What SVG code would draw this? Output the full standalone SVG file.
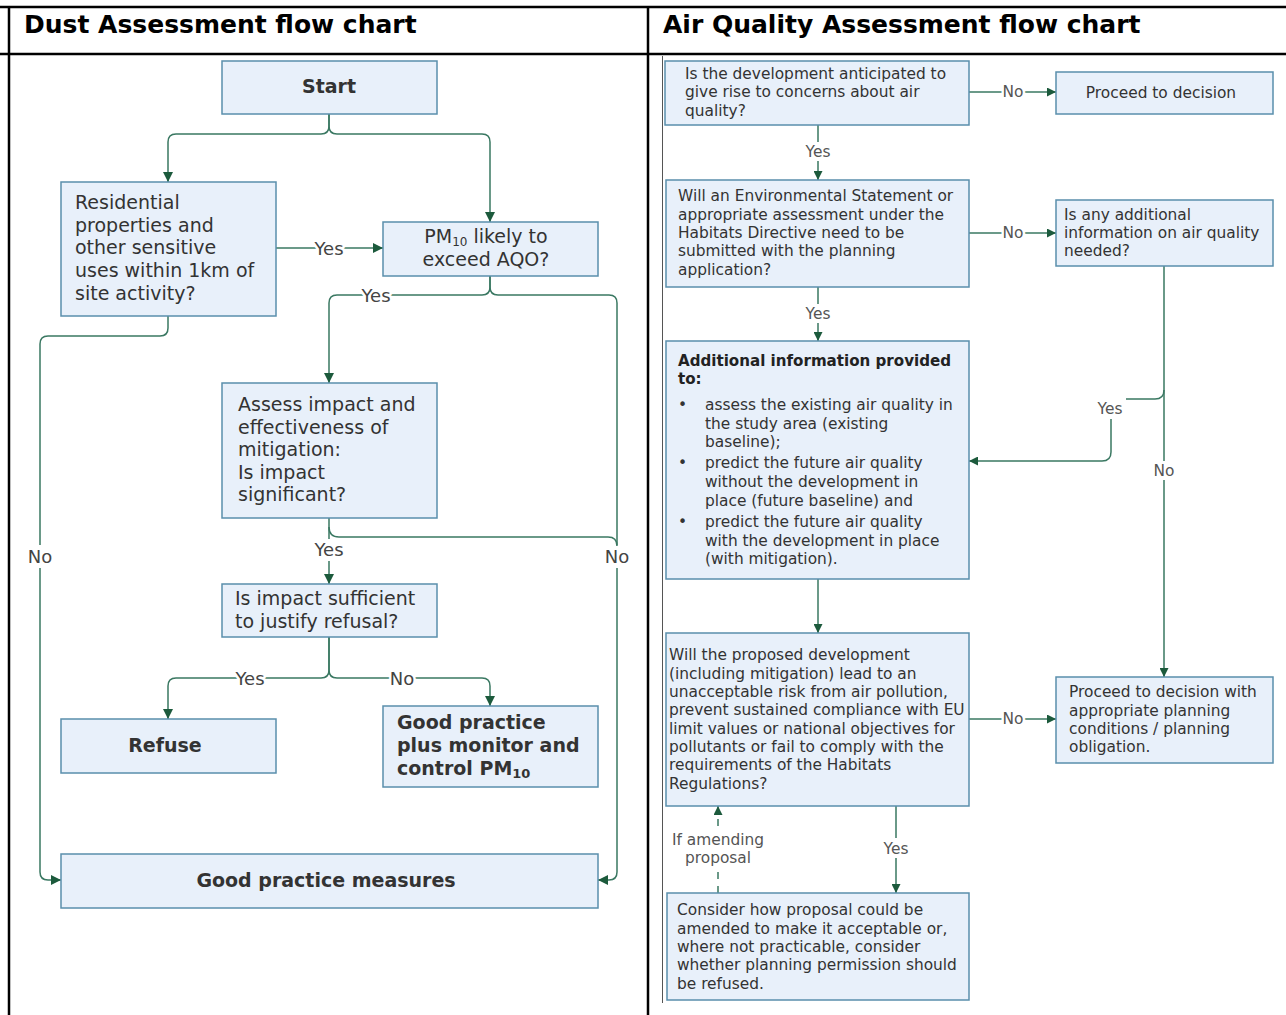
<svg xmlns="http://www.w3.org/2000/svg" width="1286" height="1015" viewBox="0 0 1286 1015">
<defs>
<marker id="ah" viewBox="0 0 10 10" refX="10" refY="5" markerWidth="10" markerHeight="10" markerUnits="userSpaceOnUse" orient="auto">
<path d="M0,0 L10,5 L0,10 Z" fill="#1c5a3c"/>
</marker>
<marker id="ahs" viewBox="0 0 10 10" refX="10" refY="5" markerWidth="9" markerHeight="9" markerUnits="userSpaceOnUse" orient="auto">
<path d="M0,0 L10,5 L0,10 Z" fill="#1c5a3c"/>
</marker>
</defs>
<style>
.frame{stroke:#000;stroke-width:2.5;fill:none}
.hdr{font-family:"DejaVu Sans",Verdana,sans-serif;font-weight:bold;font-size:25px;fill:#000}
.box{fill:#e8f0fa;stroke:#5a8fac;stroke-width:1.5}
.tl{font-family:"DejaVu Sans",Verdana,sans-serif;font-size:19px;fill:#333}
.tlb{font-family:"DejaVu Sans",Verdana,sans-serif;font-size:19px;font-weight:bold;fill:#333}
.tr{font-family:"DejaVu Sans",Verdana,sans-serif;font-size:15.4px;fill:#333}
.trb{font-family:"DejaVu Sans",Verdana,sans-serif;font-size:15.1px;font-weight:bold;fill:#222}
.c{stroke:#3a7862;stroke-width:1.5;fill:none}
.cl{marker-end:url(#ah)}
.cs{marker-end:url(#ahs)}
.lblL{font-family:"DejaVu Sans",Verdana,sans-serif;font-size:18px;fill:#444;text-anchor:middle;paint-order:stroke;stroke:#fff;stroke-width:5px;stroke-linejoin:round}
.lblR{font-family:"DejaVu Sans",Verdana,sans-serif;font-size:15.4px;fill:#555;text-anchor:middle;paint-order:stroke;stroke:#fff;stroke-width:5px;stroke-linejoin:round}
.mid{text-anchor:middle}
</style>
<rect width="1286" height="1015" fill="#fff"/>
<g id="frame">
<line class="frame" x1="0" y1="7" x2="1286" y2="7"/>
<line class="frame" x1="0" y1="54" x2="1286" y2="54"/>
<line class="frame" x1="9" y1="7" x2="9" y2="1015"/>
<line class="frame" x1="648" y1="7" x2="648" y2="1015"/>
<line x1="662.5" y1="56" x2="662.5" y2="1003" stroke="#555" stroke-width="1"/>
<text class="hdr" x="24" y="33">Dust Assessment flow chart</text>
<text class="hdr" x="663" y="33">Air Quality Assessment flow chart</text>
</g>

<g id="connectors">
<!-- left chart -->
<path class="c cl" d="M329,114 V126 Q329,134 321,134 H176 Q168,134 168,142 V182"/>
<path class="c cl" d="M329,114 V126 Q329,134 337,134 H482 Q490,134 490,142 V222"/>
<path class="c cl" d="M276,248 H383"/>
<path class="c cl" d="M490,276 V287 Q490,295 482,295 H337 Q329,295 329,303 V383"/>
<path class="c cl" d="M490,276 V287 Q490,295 498,295 H609 Q617,295 617,303 V545 M617,568 V872 Q617,880 609,880 H598"/>
<path class="c cl" d="M168,316 V328 Q168,336 160,336 H48 Q40,336 40,344 V545 M40,568 V872 Q40,880 48,880 H61"/>
<path class="c cl" d="M329,518 V539 M329,561 V584"/>
<path class="c" d="M329,527 Q329,537 339,537 H608 Q617,537 617,546"/>
<path class="c cl" d="M329,637 V670 Q329,678 321,678 H176 Q168,678 168,686 V719"/>
<path class="c cl" d="M329,637 V670 Q329,678 337,678 H482 Q490,678 490,686 V706"/>
<text class="lblL" x="329" y="255">Yes</text>
<text class="lblL" x="376" y="302">Yes</text>
<text class="lblL" x="40" y="563">No</text>
<text class="lblL" x="617" y="563">No</text>
<text class="lblL" x="329" y="556">Yes</text>
<text class="lblL" x="250" y="685">Yes</text>
<text class="lblL" x="402" y="685">No</text>
<!-- right chart -->
<path class="c cs" d="M969,92 H1056"/>
<path class="c cs" d="M818,125 V142 M818,161 V180"/>
<path class="c cs" d="M969,233 H1056"/>
<path class="c cs" d="M818,287 V304 M818,323 V341"/>
<path class="c cs" d="M1164,266 V461 M1164,480 V677"/>
<path class="c cs" d="M1164,390 Q1164,399 1155,399 H1126 M1111,419 V452 Q1111,461 1102,461 H969"/>
<path class="c cs" d="M818,579 V633"/>
<path class="c cs" d="M969,719 H1056"/>
<path class="c cs" d="M896,806 V838 M896,858 V893"/>
<path class="c cs" d="M718,893 V870 M718,826 V806" stroke-dasharray="7,7"/>
<text class="lblR" x="1013" y="97">No</text>
<text class="lblR" x="818" y="157">Yes</text>
<text class="lblR" x="1013" y="238">No</text>
<text class="lblR" x="818" y="319">Yes</text>
<text class="lblR" x="1110" y="414">Yes</text>
<text class="lblR" x="1164" y="476">No</text>
<text class="lblR" x="1013" y="724">No</text>
<text class="lblR" x="896" y="854">Yes</text>
<text class="lblR" x="718" y="845">If amending</text>
<text class="lblR" x="718" y="863">proposal</text>
</g>

<!-- left chart nodes -->
<g id="start">
<rect class="box" x="222" y="61" width="215" height="53"/>
<text class="tlb mid" x="329" y="93">Start</text>
</g>
<g id="residential">
<rect class="box" x="61" y="182" width="215" height="134"/>
<text class="tl" x="75" y="209">Residential</text>
<text class="tl" x="75" y="232">properties and</text>
<text class="tl" x="75" y="254">other sensitive</text>
<text class="tl" x="75" y="277">uses within 1km of</text>
<text class="tl" x="75" y="300">site activity?</text>
</g>
<g id="pm10">
<rect class="box" x="383" y="222" width="215" height="54"/>
<text class="tl mid" x="486" y="243">PM<tspan font-size="12" dy="3">10</tspan><tspan dy="-3"> likely to</tspan></text>
<text class="tl mid" x="486" y="266">exceed AQO?</text>
</g>
<g id="assess">
<rect class="box" x="222" y="383" width="215" height="135"/>
<text class="tl" x="238" y="411">Assess impact and</text>
<text class="tl" x="238" y="434">effectiveness of</text>
<text class="tl" x="238" y="456">mitigation:</text>
<text class="tl" x="238" y="479">Is impact</text>
<text class="tl" x="238" y="501">significant?</text>
</g>
<g id="sufficient">
<rect class="box" x="222" y="584" width="215" height="53"/>
<text class="tl" x="235" y="605">Is impact sufficient</text>
<text class="tl" x="235" y="628">to justify refusal?</text>
</g>
<g id="refuse">
<rect class="box" x="61" y="719" width="215" height="54"/>
<text class="tlb mid" x="165" y="752">Refuse</text>
</g>
<g id="goodplus">
<rect class="box" x="383" y="706" width="215" height="81"/>
<text class="tlb" x="397" y="729">Good practice</text>
<text class="tlb" x="397" y="752">plus monitor and</text>
<text class="tlb" x="397" y="775">control PM<tspan font-size="13" dy="3">10</tspan></text>
</g>
<g id="goodmeasures">
<rect class="box" x="61" y="854" width="537" height="54"/>
<text class="tlb mid" x="326" y="887">Good practice measures</text>
</g>

<!-- right chart nodes -->
<g id="q1">
<rect class="box" x="665" y="61" width="304" height="64"/>
<text class="tr" x="685" y="79">Is the development anticipated to</text>
<text class="tr" x="685" y="97">give rise to concerns about air</text>
<text class="tr" x="685" y="116">quality?</text>
</g>
<g id="proceed">
<rect class="box" x="1056" y="72" width="217" height="42"/>
<text class="tr mid" x="1161" y="98">Proceed to decision</text>
</g>
<g id="q2">
<rect class="box" x="666" y="180" width="303" height="107"/>
<text class="tr" x="678" y="201">Will an Environmental Statement or</text>
<text class="tr" x="678" y="220">appropriate assessment under the</text>
<text class="tr" x="678" y="238">Habitats Directive need to be</text>
<text class="tr" x="678" y="256">submitted with the planning</text>
<text class="tr" x="678" y="275">application?</text>
</g>
<g id="anyinfo">
<rect class="box" x="1056" y="200" width="217" height="66"/>
<text class="tr" x="1064" y="220">Is any additional</text>
<text class="tr" x="1064" y="238">information on air quality</text>
<text class="tr" x="1064" y="256">needed?</text>
</g>
<g id="additional">
<rect class="box" x="666" y="341" width="303" height="238"/>
<text class="trb" x="678" y="366">Additional information provided</text>
<text class="trb" x="678" y="384">to:</text>
<text class="tr" x="678" y="410">•</text>
<text class="tr" x="705" y="410">assess the existing air quality in</text>
<text class="tr" x="705" y="429">the study area (existing</text>
<text class="tr" x="705" y="447">baseline);</text>
<text class="tr" x="678" y="468">•</text>
<text class="tr" x="705" y="468">predict the future air quality</text>
<text class="tr" x="705" y="487">without the development in</text>
<text class="tr" x="705" y="506">place (future baseline) and</text>
<text class="tr" x="678" y="527">•</text>
<text class="tr" x="705" y="527">predict the future air quality</text>
<text class="tr" x="705" y="546">with the development in place</text>
<text class="tr" x="705" y="564">(with mitigation).</text>
</g>
<g id="q3">
<rect class="box" x="666" y="633" width="303" height="173"/>
<text class="tr" x="669" y="660">Will the proposed development</text>
<text class="tr" x="669" y="679">(including mitigation) lead to an</text>
<text class="tr" x="669" y="697">unacceptable risk from air pollution,</text>
<text class="tr" x="669" y="715">prevent sustained compliance with EU</text>
<text class="tr" x="669" y="734">limit values or national objectives for</text>
<text class="tr" x="669" y="752">pollutants or fail to comply with the</text>
<text class="tr" x="669" y="770">requirements of the Habitats</text>
<text class="tr" x="669" y="789">Regulations?</text>
</g>
<g id="proceedwith">
<rect class="box" x="1056" y="677" width="217" height="86"/>
<text class="tr" x="1069" y="697">Proceed to decision with</text>
<text class="tr" x="1069" y="716">appropriate planning</text>
<text class="tr" x="1069" y="734">conditions / planning</text>
<text class="tr" x="1069" y="752">obligation.</text>
</g>
<g id="consider">
<rect class="box" x="667" y="893" width="302" height="107"/>
<text class="tr" x="677" y="915">Consider how proposal could be</text>
<text class="tr" x="677" y="934">amended to make it acceptable or,</text>
<text class="tr" x="677" y="952">where not practicable, consider</text>
<text class="tr" x="677" y="970">whether planning permission should</text>
<text class="tr" x="677" y="989">be refused.</text>
</g>
</svg>
